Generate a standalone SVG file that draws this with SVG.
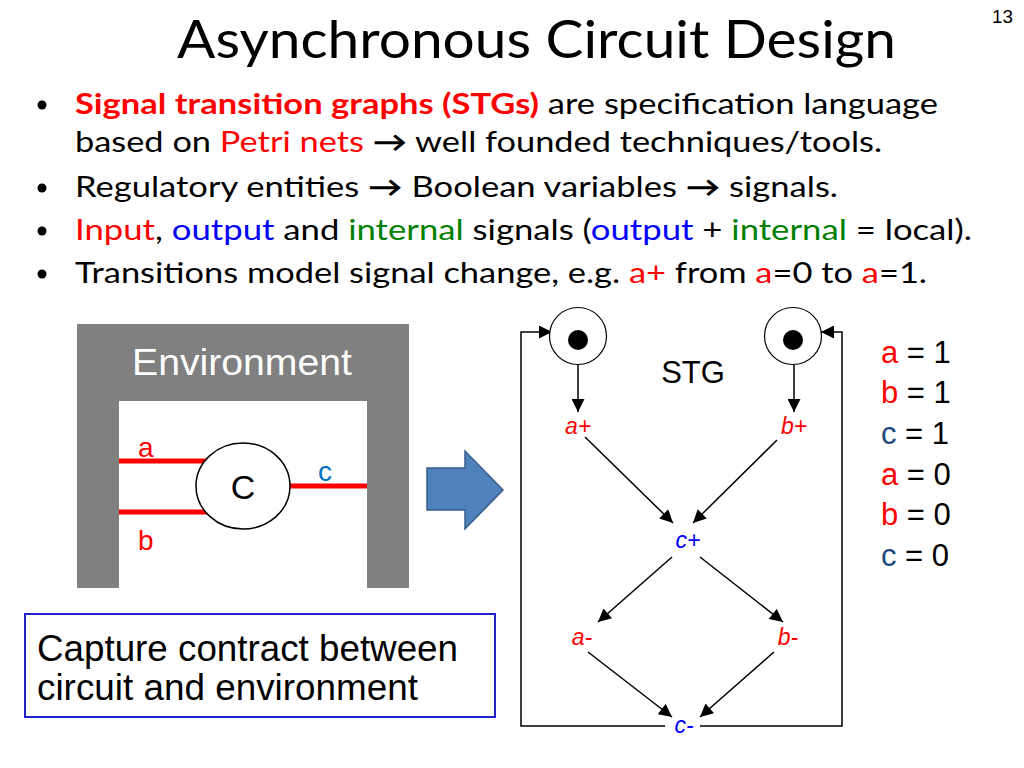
<svg xmlns="http://www.w3.org/2000/svg" width="1024" height="768" viewBox="0 0 1024 768">
<defs>
<style>
.cal{font-family:Lato,"Open Sans","Liberation Sans",sans-serif;}
.ar{font-family:"Liberation Sans",Arial,sans-serif;}
.bul{font-size:28px;fill:#000;}
.red{fill:#FF0000;}
.blu{fill:#0000FF;}
.grn{fill:#008000;}
.dkb{fill:#1F497D;}
.arw{font-weight:bold;}
.edge{stroke:#000;stroke-width:1.5;fill:none;}
.lbl{font-size:23px;font-style:italic;}
.wire{stroke:#FF0000;stroke-width:5;}
</style>
<marker id="ah" viewBox="0 0 10 10" refX="10" refY="5" markerWidth="15" markerHeight="13" markerUnits="userSpaceOnUse" orient="auto">
<path d="M0,0 L10,5 L0,10 Z" fill="#000"/>
</marker>
</defs>
<rect width="1024" height="768" fill="#fff"/>

<g id="title">
<text class="cal" x="177" y="58" font-size="53" textLength="719" lengthAdjust="spacingAndGlyphs">Asynchronous Circuit Design</text>
<text class="ar" x="992" y="23" font-size="19" textLength="21" lengthAdjust="spacingAndGlyphs">13</text>
</g>

<g id="bullets" class="cal bul">
<circle cx="42" cy="105" r="4.5" fill="#000"/>
<circle cx="42" cy="188" r="4.5" fill="#000"/>
<circle cx="42" cy="231" r="4.5" fill="#000"/>
<circle cx="42" cy="274" r="4.5" fill="#000"/>
<text x="75" y="114" textLength="863" lengthAdjust="spacingAndGlyphs"><tspan class="red" font-weight="bold">Signal transition graphs (STGs)</tspan> are specification language</text>
<text x="75" y="152" textLength="807" lengthAdjust="spacingAndGlyphs">based on <tspan class="red">Petri nets</tspan> <tspan class="arw">→</tspan> well founded techniques/tools.</text>
<text x="75" y="197" textLength="763" lengthAdjust="spacingAndGlyphs">Regulatory entities <tspan class="arw">→</tspan> Boolean variables <tspan class="arw">→</tspan> signals.</text>
<text x="75" y="240" textLength="897" lengthAdjust="spacingAndGlyphs"><tspan class="red">Input</tspan>, <tspan class="blu">output</tspan> and <tspan class="grn">internal</tspan> signals (<tspan class="blu">output</tspan> + <tspan class="grn">internal</tspan> = local).</text>
<text x="75" y="283" textLength="852" lengthAdjust="spacingAndGlyphs">Transitions model signal change, e.g. <tspan class="red">a+</tspan> from <tspan class="red">a</tspan>=0 to <tspan class="red">a</tspan>=1.</text>
</g>

<g id="environment">
<path d="M77,324 H409 V588 H367 V401 H119 V588 H77 Z" fill="#808080"/>
<text class="ar" x="242" y="375" font-size="36" fill="#fff" text-anchor="middle" textLength="220" lengthAdjust="spacingAndGlyphs">Environment</text>
</g>

<g id="wires">
<line class="wire" x1="119" y1="461" x2="208" y2="461"/>
<line class="wire" x1="119" y1="512" x2="208" y2="512"/>
<line class="wire" x1="288" y1="486" x2="367" y2="486"/>
<text class="ar red" x="138" y="457" font-size="28">a</text>
<text class="ar red" x="138" y="550" font-size="28">b</text>
<text class="ar" x="318" y="481" font-size="28" fill="#0070C0">c</text>
</g>

<g id="circuit">
<ellipse cx="243" cy="486" rx="47" ry="43" fill="#fff" stroke="#000" stroke-width="1.5"/>
<text class="ar" x="243" y="499" font-size="34" text-anchor="middle">C</text>
</g>

<g id="block-arrow">
<polygon points="427,468 465,468 465,451 503,490 465,529 465,510 427,510" fill="#4F81BD" stroke="#385D8A" stroke-width="1.5"/>
</g>

<g id="caption">
<rect x="25" y="614" width="470" height="103" fill="#fff" stroke="#2222CC" stroke-width="2"/>
<text class="ar" x="37" y="661" font-size="36" textLength="421" lengthAdjust="spacingAndGlyphs">Capture contract between</text>
<text class="ar" x="37" y="700" font-size="36" textLength="381" lengthAdjust="spacingAndGlyphs">circuit and environment</text>
</g>

<g id="connectors">
<polyline class="edge" points="665,726 521,726 521,332 552,332" marker-end="url(#ah)"/>
<polyline class="edge" points="700,726 842,726 842,332 821,332" marker-end="url(#ah)"/>
<line class="edge" x1="578" y1="365" x2="578" y2="412" marker-end="url(#ah)"/>
<line class="edge" x1="794" y1="365" x2="794" y2="412" marker-end="url(#ah)"/>
<line class="edge" x1="585" y1="437" x2="673" y2="523" marker-end="url(#ah)"/>
<line class="edge" x1="777" y1="440" x2="693" y2="523" marker-end="url(#ah)"/>
<line class="edge" x1="672" y1="557" x2="598" y2="622" marker-end="url(#ah)"/>
<line class="edge" x1="700" y1="557" x2="783" y2="622" marker-end="url(#ah)"/>
<line class="edge" x1="588" y1="652" x2="672" y2="717" marker-end="url(#ah)"/>
<line class="edge" x1="774" y1="652" x2="700" y2="717" marker-end="url(#ah)"/>
</g>

<g id="place-a">
<circle cx="578" cy="336" r="28.5" fill="#fff" stroke="#000" stroke-width="1.2"/>
<circle cx="578" cy="340" r="10" fill="#000"/>
</g>
<g id="place-b">
<circle cx="793" cy="336" r="28.5" fill="#fff" stroke="#000" stroke-width="1.2"/>
<circle cx="793" cy="340" r="10" fill="#000"/>
</g>
<g id="stg-label">
<text class="ar" x="693" y="383" font-size="31" text-anchor="middle">STG</text>
</g>
<g id="t-a-plus"><text class="ar lbl red" x="578" y="434" text-anchor="middle">a+</text></g>
<g id="t-b-plus"><text class="ar lbl red" x="794" y="434" text-anchor="middle">b+</text></g>
<g id="t-c-plus"><text class="ar lbl blu" x="688" y="548" text-anchor="middle">c+</text></g>
<g id="t-a-minus"><text class="ar lbl red" x="582" y="645" text-anchor="middle">a-</text></g>
<g id="t-b-minus"><text class="ar lbl red" x="788" y="645" text-anchor="middle">b-</text></g>
<g id="t-c-minus"><text class="ar lbl blu" x="684" y="733" text-anchor="middle">c-</text></g>

<g id="values" class="ar" font-size="31">
<text x="881" y="363"><tspan class="red">a</tspan> = 1</text>
<text x="881" y="403"><tspan class="red">b</tspan> = 1</text>
<text x="881" y="444"><tspan class="dkb">c</tspan> = 1</text>
<text x="881" y="485"><tspan class="red">a</tspan> = 0</text>
<text x="881" y="525"><tspan class="red">b</tspan> = 0</text>
<text x="881" y="566"><tspan class="dkb">c</tspan> = 0</text>
</g>
</svg>
